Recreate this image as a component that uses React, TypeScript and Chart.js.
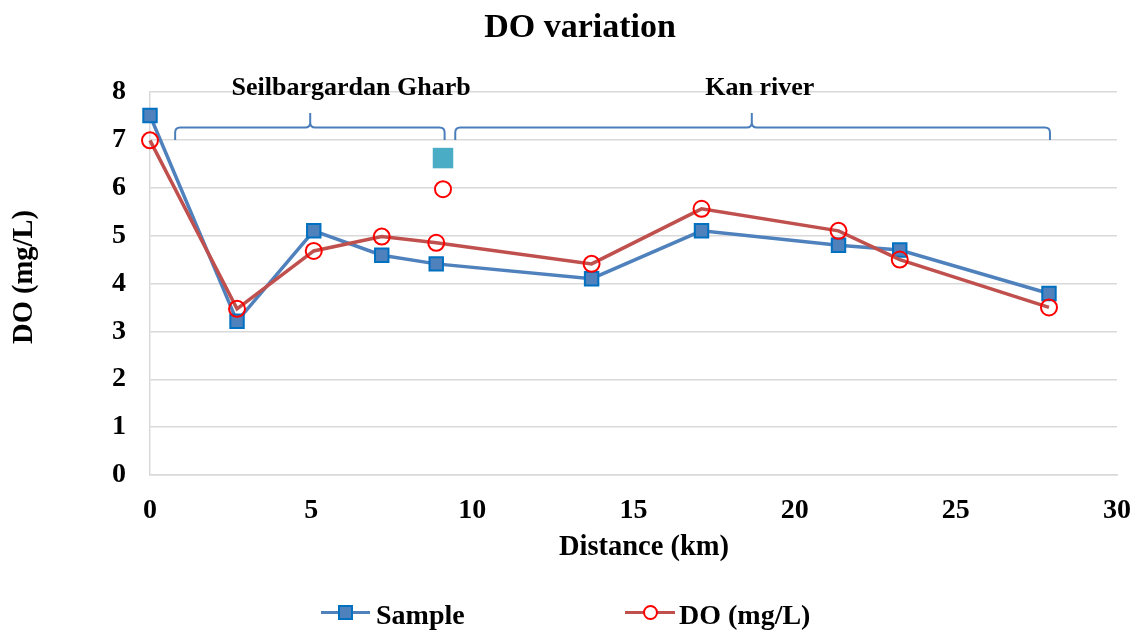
import React, { useEffect, useRef } from "react";
import { Chart, registerables } from "chart.js";

Chart.register(...registerables);

const FONT = "'Liberation Serif', 'Times New Roman', Times, serif";

const chartTitle = "DO variation";
const xAxisTitle = "Distance (km)";
const yAxisTitle = "DO (mg/L)";

const seriesNames = ["Sample", "DO (mg/L)"];

const distanceKm = [0, 2.7, 5.08, 7.19, 8.88, 13.7, 17.11, 21.36, 23.26, 27.89];
const sampleDO = [7.51, 3.21, 5.1, 4.59, 4.41, 4.1, 5.1, 4.8, 4.7, 3.79];
const modelDO = [6.99, 3.47, 4.68, 4.98, 4.85, 4.41, 5.56, 5.1, 4.5, 3.5];

const extraKm = [9.09];
const extraSampleDO = [6.62];
const extraModelDO = [5.97];

const xMin = 0;
const xMax = 30;
const xStep = 5;
const yMin = 0;
const yMax = 8;
const yStep = 1;

const braceLabels = ["Seilbargardan Gharb", "Kan river"];
const braceStartKm = [0.78, 9.47];
const braceEndKm = [9.14, 27.92];
const braceMidKm = [4.97, 18.67];
const braceLabelKm = [6.24, 18.92];
const braceTipDO = 7.0;
const braceBarDO = 7.26;
const bracePeakDO = 7.56;
const braceLabelDO = 8.07;

const SAMPLE_LINE = "#4f81bd";
const SAMPLE_BORDER = "#0070c0";
const DO_LINE = "#c0504d";
const DO_MARK = "#ff0000";
const EXTRA_SQ = "#4bacc6";
const BRACE = "#4a7ebb";
const GRID = "#d9d9d9";

const decorPlugin = {
  id: "decor",
  afterDraw(chart: any) {
    const { ctx, scales } = chart;
    const xs = scales.x;
    const ys = scales.y;
    ctx.save();

    // braces
    ctx.strokeStyle = BRACE;
    ctx.lineWidth = 2;
    const r = 5;
    for (let i = 0; i < braceLabels.length; i++) {
      const x1 = xs.getPixelForValue(braceStartKm[i]);
      const x2 = xs.getPixelForValue(braceEndKm[i]);
      const xm = xs.getPixelForValue(braceMidKm[i]);
      const yb = ys.getPixelForValue(braceTipDO);
      const yt = ys.getPixelForValue(braceBarDO);
      const yp = ys.getPixelForValue(bracePeakDO);
      ctx.beginPath();
      ctx.moveTo(x1, yb);
      ctx.lineTo(x1, yt + r);
      ctx.quadraticCurveTo(x1, yt, x1 + r, yt);
      ctx.lineTo(xm - r, yt);
      ctx.quadraticCurveTo(xm, yt, xm, yt - r);
      ctx.lineTo(xm, yp);
      ctx.moveTo(xm, yp);
      ctx.lineTo(xm, yt - r);
      ctx.quadraticCurveTo(xm, yt, xm + r, yt);
      ctx.lineTo(x2 - r, yt);
      ctx.quadraticCurveTo(x2, yt, x2, yt + r);
      ctx.lineTo(x2, yb);
      ctx.stroke();

      ctx.fillStyle = "#000";
      ctx.font = `bold 26px ${FONT}`;
      ctx.textAlign = "center";
      ctx.textBaseline = "middle";
      ctx.fillText(braceLabels[i], xs.getPixelForValue(braceLabelKm[i]), ys.getPixelForValue(braceLabelDO));
    }

    // title
    ctx.fillStyle = "#000";
    ctx.textAlign = "center";
    ctx.textBaseline = "alphabetic";
    ctx.font = `bold 34px ${FONT}`;
    ctx.fillText(chartTitle, 580, 37);

    // axis titles
    ctx.font = `bold 28.5px ${FONT}`;
    ctx.fillText(xAxisTitle, 644, 555);
    ctx.save();
    ctx.translate(25, 277);
    ctx.rotate(-Math.PI / 2);
    ctx.textBaseline = "middle";
    ctx.fillText(yAxisTitle, 0, 0);
    ctx.restore();

    // legend
    const ly = 612.5;
    ctx.lineWidth = 3;
    ctx.strokeStyle = SAMPLE_LINE;
    ctx.beginPath();
    ctx.moveTo(321, ly);
    ctx.lineTo(370, ly);
    ctx.stroke();
    ctx.fillStyle = SAMPLE_LINE;
    ctx.strokeStyle = SAMPLE_BORDER;
    ctx.lineWidth = 2;
    ctx.fillRect(339, ly - 6.5, 13, 13);
    ctx.strokeRect(339, ly - 6.5, 13, 13);

    ctx.lineWidth = 3;
    ctx.strokeStyle = DO_LINE;
    ctx.beginPath();
    ctx.moveTo(625, ly);
    ctx.lineTo(675, ly);
    ctx.stroke();
    ctx.fillStyle = "#fff";
    ctx.strokeStyle = DO_MARK;
    ctx.lineWidth = 2;
    ctx.beginPath();
    ctx.arc(650.5, ly, 6.5, 0, Math.PI * 2);
    ctx.fill();
    ctx.stroke();

    ctx.fillStyle = "#000";
    ctx.font = `bold 28px ${FONT}`;
    ctx.textAlign = "left";
    ctx.textBaseline = "alphabetic";
    ctx.fillText(seriesNames[0], 376, 624);
    ctx.fillText(seriesNames[1], 679, 624);

    ctx.restore();
  },
};

export default function App() {
  const ref = useRef<HTMLCanvasElement | null>(null);

  useEffect(() => {
    document.body.style.margin = "0";
    if (!ref.current) return;
    const chart = new Chart(ref.current, {
      type: "scatter",
      data: {
        datasets: [
          {
            label: seriesNames[0],
            data: distanceKm.map((x, i) => ({ x, y: sampleDO[i] })),
            showLine: true,
            clip: false,
            borderColor: SAMPLE_LINE,
            borderWidth: 3.5,
            pointStyle: "rect",
            pointRadius: 9.5,
            pointBackgroundColor: SAMPLE_LINE,
            pointBorderColor: SAMPLE_BORDER,
            pointBorderWidth: 2,
            order: 2,
          },
          {
            label: seriesNames[1],
            data: distanceKm.map((x, i) => ({ x, y: modelDO[i] })),
            showLine: true,
            clip: false,
            borderColor: DO_LINE,
            borderWidth: 3.5,
            pointStyle: "circle",
            pointRadius: 8,
            pointBackgroundColor: "rgba(255,255,255,0)",
            pointBorderColor: DO_MARK,
            pointBorderWidth: 2,
            order: 1,
          },
          {
            label: "extra-sample",
            data: extraKm.map((x, i) => ({ x, y: extraSampleDO[i] })),
            showLine: false,
            clip: false,
            pointStyle: "rect",
            pointRadius: 14.5,
            pointBackgroundColor: EXTRA_SQ,
            pointBorderColor: EXTRA_SQ,
            pointBorderWidth: 0,
            order: 3,
          },
          {
            label: "extra-do",
            data: extraKm.map((x, i) => ({ x, y: extraModelDO[i] })),
            showLine: false,
            clip: false,
            pointStyle: "circle",
            pointRadius: 8,
            pointBackgroundColor: "#fff",
            pointBorderColor: DO_MARK,
            pointBorderWidth: 2,
            order: 3,
          },
        ],
      },
      options: {
        responsive: false,
        animation: false,
        layout: { padding: { top: 92, right: 22, bottom: 0, left: 0 } },
        plugins: {
          legend: { display: false },
          title: { display: false },
          tooltip: { enabled: false },
        },
        scales: {
          x: {
            type: "linear",
            min: xMin,
            max: xMax,
            ticks: {
              stepSize: xStep,
              padding: 19,
              color: "#000",
              font: { family: FONT, size: 28, weight: "bold" },
            },
            grid: { display: false, drawTicks: false },
            border: { display: true, color: GRID, width: 1.5 },
            afterFit(scale: any) {
              scale.height = 156;
              scale.paddingRight = 10;
              scale.paddingLeft = 0;
            },
          },
          y: {
            min: yMin,
            max: yMax,
            ticks: {
              stepSize: yStep,
              padding: 24,
              color: "#000",
              font: { family: FONT, size: 28, weight: "bold" },
            },
            grid: { color: GRID, lineWidth: 1.5, drawTicks: false },
            border: { display: true, color: GRID, width: 1.5 },
            afterFit(scale: any) {
              scale.width = 150;
            },
          },
        },
      },
      plugins: [decorPlugin],
    });
    return () => chart.destroy();
  }, []);

  return (
    <div style={{ width: 1139, height: 631 }}>
      <canvas ref={ref} width={1139} height={631} style={{ display: "block" }} />
    </div>
  );
}
